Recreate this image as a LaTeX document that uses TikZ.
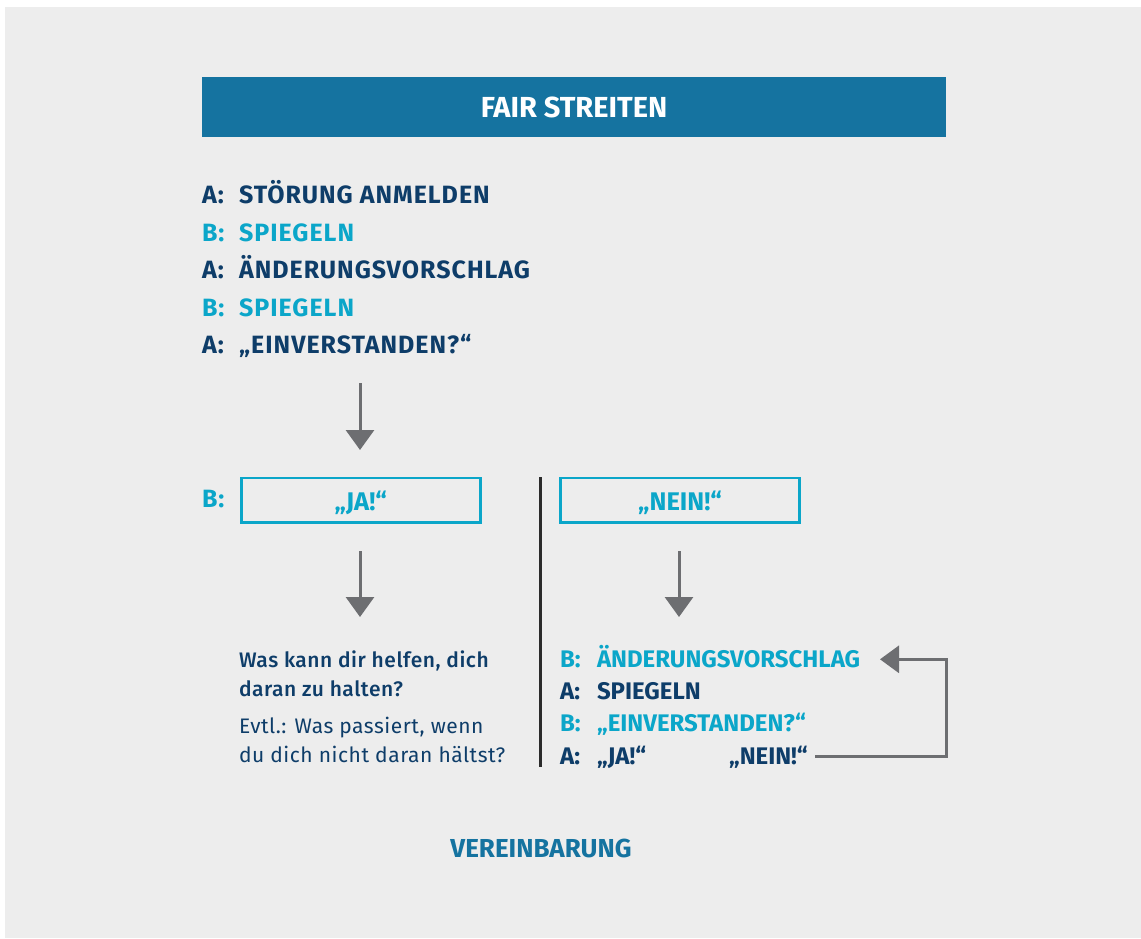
\documentclass[tikz,border=0pt]{standalone}
\usepackage{fontspec}
\setmainfont{Fira Sans}
\newfontfamily\medfont[LetterSpace=2.5]{Fira Sans Medium}
\newfontfamily\bodyfont[LetterSpace=2.5]{Fira Sans}
\newfontfamily\trackfont[LetterSpace=4]{Fira Sans}
\usetikzlibrary{arrows.meta}
\definecolor{bar}{HTML}{1573A0}
\definecolor{navy}{HTML}{0E3D69}
\definecolor{cyanx}{HTML}{0BA6C9}
\definecolor{arrowgray}{HTML}{6D6E71}
\definecolor{divider}{HTML}{2B2B2B}
\definecolor{bg}{HTML}{EDEDED}
\begin{document}
\begin{tikzpicture}[x=1pt,y=-1pt,
  txt/.style={anchor=base west, inner sep=0pt, outer sep=0pt},
  listA/.style={txt, text=navy, font=\trackfont\bfseries\fontsize{25}{30}\selectfont},
  listB/.style={listA, text=cyanx},
  rlistA/.style={txt, text=navy, font=\bfseries\fontsize{24}{30}\selectfont},
  rlistB/.style={rlistA, text=cyanx},
  body/.style={txt, text=navy, font=\bodyfont\fontsize{21}{24}\selectfont},
  bodym/.style={txt, text=navy, font=\medfont\fontsize{21}{24}\selectfont},
  answer/.style={draw=cyanx, line width=2.4pt, minimum width=239pt, minimum height=44.5pt, inner sep=0pt},
  answertext/.style={anchor=base, inner sep=0pt, text=cyanx, font=\bfseries\fontsize{25.5}{30}\selectfont},
  flow/.style={draw=arrowgray, line width=3pt, -{Triangle[width=28pt,length=20pt]}},
]
\fill[white] (0,0) rectangle (1141,938);
\fill[bg] (5,7) rectangle (1141,938);
\useasboundingbox (0,0) rectangle (1141,938);

% title
\node[fill=bar, minimum width=744pt, minimum height=60pt, inner sep=0pt] (title) at (574,107) {};
\node[anchor=base, inner sep=0pt, text=white, font=\bfseries\fontsize{29}{34}\selectfont] (titletext) at (574,117) {FAIR STREITEN};

% first list
\node[listA] (l1a) at (202,203.5) {A:};
\node[listA] (l1t) at (239,203.5) {STÖRUNG ANMELDEN};
\node[listB] (l2a) at (202,241) {B:};
\node[listB] (l2t) at (239,241) {SPIEGELN};
\node[listA] (l3a) at (202,278.5) {A:};
\node[listA] (l3t) at (239,278.5) {ÄNDERUNGSVORSCHLAG};
\node[listB] (l4a) at (202,316) {B:};
\node[listB] (l4t) at (239,316) {SPIEGELN};
\node[listA] (l5a) at (202,353.5) {A:};
\node[listA] (l5t) at (239,353.5) {„EINVERSTANDEN?“};

\coordinate (a1s) at (360,383);
\coordinate (a1e) at (360,450);
\draw[flow] (a1s) -- (a1e);

% answers
\node[listB] (ba) at (202,507) {B:};
\node[answer] (ja) at (360.8,500.3) {};
\node[answertext] (jat) at (360.8,510.5) {„JA!“};
\node[answer] (nein) at (680,500.3) {};
\node[answertext] (neint) at (680,510.5) {„NEIN!“};

\coordinate (divtop) at (540.5,477);
\coordinate (divbot) at (540.5,766.5);
\draw[divider, line width=2.7pt] (divtop) -- (divbot);

\coordinate (a2s) at (360,551);
\coordinate (a2e) at (360,617);
\draw[flow] (a2s) -- (a2e);
\coordinate (a3s) at (679,551);
\coordinate (a3e) at (679,617);
\draw[flow] (a3s) -- (a3e);

% left text
\node[bodym] (q1) at (239,667) {Was kann dir helfen, dich};
\node[bodym] (q2) at (239,696) {daran zu halten?};
\node[body] (q3) at (239,733) {Evtl.: Was passiert, wenn};
\node[body] (q4) at (239,762) {du dich nicht daran hältst?};

% right list
\node[rlistB] (r1a) at (560,667) {B:};
\node[rlistB] (r1t) at (597,667) {ÄNDERUNGSVORSCHLAG};
\node[rlistA] (r2a) at (560,699.5) {A:};
\node[rlistA] (r2t) at (597,699.5) {SPIEGELN};
\node[rlistB] (r3a) at (560,731.5) {B:};
\node[rlistB] (r3t) at (597,731.5) {„EINVERSTANDEN?“};
\node[rlistA] (r4a) at (560,764) {A:};
\node[rlistA] (r4t) at (597,764) {„JA!“};
\node[rlistA] (r4n) at (729,764) {„NEIN!“};

% loop back
\coordinate (fbs) at (815,756);
\coordinate (fbc) at (946,756);
\coordinate (fbu) at (946,659.3);
\coordinate (fbe) at (880,659.3);
\draw[draw=arrowgray, line width=3pt, -{Triangle[width=27pt,length=19pt]}] (fbs) -- (fbc) -- (fbu) -- (fbe);

% result
\node[anchor=base, inner sep=0pt, text=bar, font=\bfseries\fontsize{26}{30}\selectfont] (result) at (541,857) {VEREINBARUNG};
\end{tikzpicture}
\end{document}
